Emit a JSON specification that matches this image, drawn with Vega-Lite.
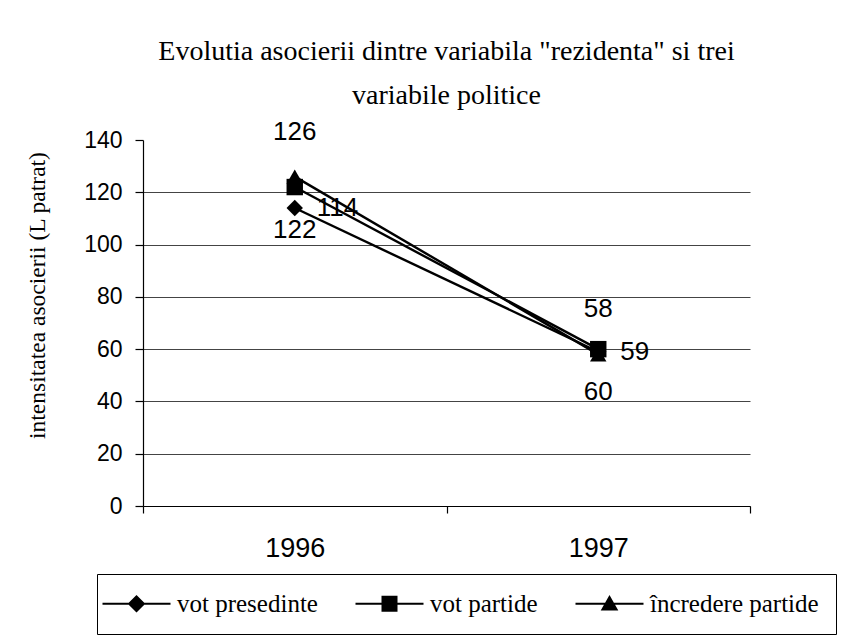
{
  "$schema": "https://vega.github.io/schema/vega-lite/v6.json",
  "width": 607,
  "height": 366,
  "autosize": {"type": "none"},
  "padding": {"left": 143, "top": 140, "right": 98, "bottom": 131},
  "background": "white",
  "title": {
    "text": ["Evolutia asocierii dintre variabila \"rezidenta\" si trei", "variabile politice"],
    "font": "Liberation Serif",
    "fontSize": 28,
    "fontWeight": "normal",
    "color": "black",
    "lineHeight": 44,
    "offset": 9,
    "anchor": "middle"
  },
  "data": {
    "values": [
      {"serie": "vot presedinte", "an": "1996", "valoare": 114},
      {"serie": "vot presedinte", "an": "1997", "valoare": 59},
      {"serie": "vot partide", "an": "1996", "valoare": 122},
      {"serie": "vot partide", "an": "1997", "valoare": 60},
      {"serie": "încredere partide", "an": "1996", "valoare": 126},
      {"serie": "încredere partide", "an": "1997", "valoare": 58}
    ]
  },
  "config": {
    "view": {"stroke": null},
    "axis": {"domainColor": "black", "tickColor": "black", "labelColor": "black", "titleColor": "black"}
  },
  "encoding": {
    "x": {
      "field": "an", "type": "ordinal",
      "scale": {"type": "band", "paddingInner": 0, "paddingOuter": 0},
      "axis": {
        "title": null, "labelAngle": 0, "tickBand": "extent", "tickSize": 7,
        "labelFont": "Liberation Sans", "labelFontSize": 27, "labelPadding": 22,
        "domainWidth": 1.2, "tickWidth": 1.2
      }
    },
    "y": {
      "field": "valoare", "type": "quantitative",
      "scale": {"domain": [0, 140], "nice": false},
      "axis": {
        "values": [0, 20, 40, 60, 80, 100, 120, 140],
        "title": "intensitatea asocierii (L patrat)",
        "titleFont": "Liberation Serif", "titleFontSize": 23.5, "titleFontWeight": "normal",
        "titleX": -94, "titleY": 155,
        "labelFont": "Liberation Sans", "labelFontSize": 23, "labelPadding": 13,
        "tickSize": 8, "domainWidth": 1.2, "tickWidth": 1.2,
        "grid": true, "gridColor": "#444444", "gridWidth": 1,
        "gridOpacity": {"condition": {"test": "datum.value == 140", "value": 0}, "value": 1}
      }
    }
  },
  "layer": [
    {
      "mark": {"type": "line", "color": "black", "strokeWidth": 2.4},
      "encoding": {"detail": {"field": "serie"}}
    },
    {
      "mark": {"type": "point", "filled": true, "color": "black", "size": 260, "opacity": 0},
      "encoding": {
        "shape": {
          "field": "serie", "type": "nominal",
          "scale": {
            "domain": ["vot presedinte", "vot partide", "încredere partide"],
            "range": [
              "M-4.25,-0.13H4.25V0.13H-4.25ZM0,-1.1L1.1,0L0,1.1L-1.1,0Z",
              "M-4.25,-0.13H4.25V0.13H-4.25ZM-1,-1H1V1H-1Z",
              "M-4.25,-0.13H4.25V0.13H-4.25ZM0,-1.1L1.1,0.85H-1.1Z"
            ]
          },
          "legend": {
            "title": null,
            "orient": "none",
            "legendX": -46,
            "legendY": 434,
            "direction": "horizontal",
            "columns": 3,
            "columnPadding": 37,
            "strokeColor": "black",
            "padding": 17,
            "symbolSize": 256,
            "symbolOpacity": 1,
            "symbolFillColor": "black",
            "symbolStrokeWidth": 0,
            "symbolOffset": 10,
            "labelOffset": 28,
            "labelFont": "Liberation Serif",
            "labelFontSize": 25,
            "labelColor": "black",
            "labelLimit": 400,
            "encode": {
              "symbols": {"fill": {"value": "black"}, "opacity": {"value": 1}}
            }
          }
        }
      }
    },
    {
      "mark": {"type": "point", "filled": true, "color": "black", "size": 270, "opacity": 1},
      "encoding": {
        "shape": {
          "field": "serie", "type": "nominal",
          "scale": {"domain": ["vot presedinte", "vot partide", "încredere partide"], "range": ["diamond", "square", "triangle-up"]},
          "legend": null
        }
      }
    },
    {
      "transform": [{"filter": "datum.serie == 'vot presedinte'"}],
      "mark": {"type": "text", "font": "Liberation Sans", "fontSize": 26, "color": "black", "align": "left", "baseline": "middle", "dx": 22},
      "encoding": {"text": {"field": "valoare", "type": "quantitative"}}
    },
    {
      "transform": [{"filter": "datum.serie == 'vot partide'"}],
      "mark": {"type": "text", "font": "Liberation Sans", "fontSize": 26, "color": "black", "align": "center", "baseline": "middle", "dy": 43},
      "encoding": {"text": {"field": "valoare", "type": "quantitative"}}
    },
    {
      "transform": [{"filter": "datum.serie == 'încredere partide'"}],
      "mark": {"type": "text", "font": "Liberation Sans", "fontSize": 26, "color": "black", "align": "center", "baseline": "middle", "dy": -45},
      "encoding": {"text": {"field": "valoare", "type": "quantitative"}}
    }
  ],
  "resolve": {"scale": {"shape": "independent"}}
}
